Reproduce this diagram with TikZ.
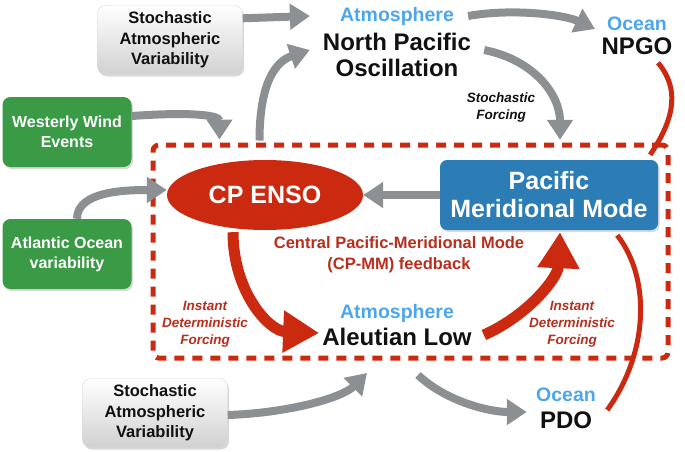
\documentclass[tikz,border=0pt]{standalone}
\usepackage{fontspec}
\setmainfont{Liberation Sans}
\usetikzlibrary{arrows.meta,calc,shapes.geometric,shadows}
\definecolor{Ink}{HTML}{111111}
\definecolor{ArrowGray}{HTML}{8D9093}
\definecolor{EnsoRed}{HTML}{CC2A10}
\definecolor{TextRed}{HTML}{B82E1C}
\definecolor{ModeBlue}{HTML}{2C7DB5}
\definecolor{SkyBlue}{HTML}{4CA6EE}
\definecolor{LeafGreen}{HTML}{3A9A46}

\begin{document}
\begin{tikzpicture}[
  x=1pt,
  y=-1pt,
  every node/.style={
    font=\bfseries,
    align=center,
    inner sep=0pt
  },
  boxshadow/.style={
    drop shadow={shadow xshift=1.5pt,shadow yshift=-2pt,opacity=.3}
  },
  graybox/.style={
    boxshadow,
    draw=black!15,
    top color=white,
    bottom color=black!18,
    rounded corners=8pt,
    minimum width=145pt,
    minimum height=69pt,
    text=Ink,
    font=\bfseries\fontsize{16.5}{20.5}\selectfont
  },
  greenbox/.style={
    boxshadow,
    fill=LeafGreen,
    rounded corners=8pt,
    minimum width=129pt,
    minimum height=70pt,
    text=white,
    font=\bfseries\fontsize{16}{20}\selectfont
  },
  bigname/.style={
    text=Ink,
    font=\bfseries\fontsize{24}{26}\selectfont
  },
  kindlbl/.style={
    text=SkyBlue,
    font=\bfseries\fontsize{19.5}{22}\selectfont
  },
  forcelbl/.style={
    text=TextRed,
    font=\bfseries\itshape\fontsize{13.5}{17}\selectfont
  },
  grayarrow/.style={
    -{Triangle[width=25pt,length=20pt]},
    ArrowGray,
    line width=8pt
  },
  redarrow/.style={
    -{Triangle[width=40pt,length=36pt]},
    EnsoRed,
    line width=11pt
  },
  redline/.style={
    EnsoRed,
    line width=5pt
  }
]

\useasboundingbox (0,0) rectangle (685,451);

% CP-MM feedback frame
\node[
  draw=EnsoRed,
  line width=5pt,
  dash pattern=on 10pt off 8pt,
  rounded corners=6pt,
  minimum width=515pt,
  minimum height=213pt
] (fb) at (410.5,251.5) {};

% drivers
\node[graybox] (sav1) at (170,40) {Stochastic\\Atmospheric\\Variability};
\node[graybox] (sav2) at (155,413) {Stochastic\\Atmospheric\\Variability};
\node[greenbox] (wwe) at (67,132) {Westerly Wind\\Events};
\node[greenbox] (aov) at (67,254) {Atlantic Ocean\\variability};

% coupled modes
\node[
  ellipse,
  fill=EnsoRed,
  minimum width=196pt,
  minimum height=70pt,
  text=white,
  font=\bfseries\fontsize{25}{28}\selectfont
] (enso) at (265,195) {CP ENSO};

\node[
  boxshadow,
  fill=ModeBlue,
  rounded corners=7pt,
  minimum width=218pt,
  minimum height=70pt,
  text=white,
  font=\bfseries\fontsize{25}{28}\selectfont
] (pmm) at (549,195) {Pacific\\Meridional Mode};

\node[kindlbl] (npoatm) at (397,16) {Atmosphere};
\node[bigname] (npo) at (397,55) {North Pacific\\Oscillation};
\node[kindlbl] (npgoatm) at (637,24) {Ocean};
\node[bigname] (npgo) at (637,46) {NPGO};
\node[kindlbl] (alatm) at (397,313) {Atmosphere};
\node[bigname] (al) at (397,337) {Aleutian Low};
\node[kindlbl] (pdoatm) at (566,395) {Ocean};
\node[bigname] (pdo) at (566,420) {PDO};

% labels
\node[
  text=Ink,
  font=\bfseries\itshape\fontsize{13.5}{17}\selectfont
] (sf) at (501,108) {Stochastic\\Forcing};
\node[
  text=TextRed,
  font=\bfseries\fontsize{16.5}{21}\selectfont
] (cpmm) at (399,255) {Central Pacific-Meridional Mode\\(CP-MM) feedback};
\node[forcelbl] (idfl) at (205,324) {Instant\\Deterministic\\Forcing};
\node[forcelbl] (idfr) at (572,324) {Instant\\Deterministic\\Forcing};

% stochastic and remote links
\draw[grayarrow] ($(sav1.north east)+(0,13)$) -- ($(npoatm.west)+(-30,0)$);
\draw[grayarrow] ($(fb.north west)+(109,-2)$)
  .. controls +(0,-65) and +(-30,10) .. ($(npo.west)+(-13,-5)$);
\draw[grayarrow] ($(wwe.east)+(0,-16)$)
  .. controls +(55,-4) and +(0,-25) .. ($(fb.north west)+(69,-3)$);
\draw[grayarrow] ($(aov.north)+(10,0)$)
  .. controls +(0,-28) and +(-40,0) .. ($(enso.west)+(0,-5)$);
\draw[grayarrow] ($(npoatm.east)+(14,0)$)
  .. controls +(45,-8) and +(-30,-14) .. ($(npgoatm.west)+(-12,5)$);
\draw[grayarrow] ($(npo.east)+(13,-5)$)
  .. controls +(50,10) and +(0,-45) .. ($(pmm.north)+(11,-20)$);
\draw[grayarrow] (pmm.west) -- (enso.east);
\draw[grayarrow] ($(sav2.east)+(0,2)$)
  .. controls +(60,-2) and +(-25,25) .. ($(al.south)+(-30,27)$);
\draw[grayarrow] ($(al.south)+(21,29)$)
  .. controls +(30,28) and +(-35,0) .. ($(pdo.west)+(-13,-8)$);

% deterministic feedback
\draw[redarrow] ($(enso.south)+(-32,2)$)
  .. controls +(0,60) and +(-50,-2) .. ($(al.west)+(-3,-4)$);
\draw[redarrow] ($(al.east)+(12,-2)$)
  .. controls +(45,-20) and +(-2,45) .. ($(pmm.south)+(11,2)$);

% ocean links
\draw[redline] ($(npgo.south)+(21,8)$)
  .. controls +(25,30) and +(20,-30) .. ($(pmm.north east)+(-8,-5)$);
\draw[redline] ($(pmm.south east)+(-41,5)$)
  .. controls +(35,45) and +(40,-55) .. ($(pdo.east)+(15,-10)$);

\end{tikzpicture}
\end{document}
